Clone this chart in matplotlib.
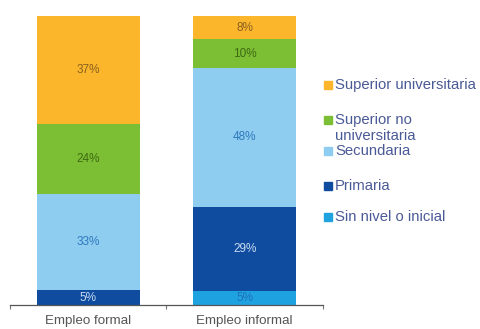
import numpy as np
import matplotlib
matplotlib.use("Agg")
import matplotlib.pyplot as plt
from matplotlib.patches import Rectangle
from matplotlib.ticker import FixedLocator

plt.rcParams["font.family"] = ["Liberation Sans", "DejaVu Sans"]

categories = ["Empleo formal", "Empleo informal"]
levels = ["Sin nivel o inicial", "Primaria", "Secundaria",
          "Superior no\nuniversitaria", "Superior universitaria"]
formal = [0, 5, 33, 24, 37]
informal = [5, 29, 48, 10, 8]

bar_colors = ["#1fa3e0", "#0f4c9f", "#8ecdf0", "#7cbf34", "#fbb62c"]
label_colors = ["#1f6fb8", "#c9dcf2", "#2f79bd", "#3f6a12", "#8a6020"]

fig = plt.figure(figsize=(4.81, 3.29), dpi=100)
W, H = 481, 329
ax = fig.add_axes([10 / W, 1 - 305 / H, 313 / W, 289 / H])

# 100% stacked columns
series = np.array([formal, informal], dtype=float)
shares = series / series.sum(axis=1, keepdims=True) * 100
x = np.arange(len(categories))
bottom = np.zeros(len(categories))
for i, lvl in enumerate(levels):
    ax.bar(x, shares[:, i], bottom=bottom, width=0.66, color=bar_colors[i],
           edgecolor="none", linewidth=0)
    for j in range(len(categories)):
        v = series[j, i]
        if v > 0:
            ax.text(x[j], bottom[j] + shares[j, i] / 2, f"{int(v)}%",
                    ha="center", va="center", fontsize=8.5,
                    color=label_colors[i])
    bottom += shares[:, i]

ax.set_xlim(-0.5, 1.5)
ax.set_ylim(0, 100)
for s in ["top", "right", "left"]:
    ax.spines[s].set_visible(False)
ax.spines["bottom"].set_color("#555555")
ax.spines["bottom"].set_linewidth(0.9)
ax.set_yticks([])
ax.set_xticks([])
ax.xaxis.set_minor_locator(FixedLocator([-0.5, 0.5, 1.5]))
ax.tick_params(axis="x", which="minor", length=3, color="#777777", width=0.8)
for j, c in enumerate(categories):
    ax.text(x[j], -5.4, c, ha="center", va="center", fontsize=9.6,
            color="#555555", clip_on=False)

# legend entries, top to bottom (level index, vertical pixel of first line)
legend_rows = [(4, 85), (3, 120), (2, 151), (1, 186), (0, 217)]
for idx, ypix in legend_rows:
    fig.patches.append(Rectangle((324 / W, 1 - (ypix + 4) / H), 8 / W, 8 / H,
                                 transform=fig.transFigure,
                                 color=bar_colors[idx], zorder=3))
    lines = levels[idx].split("\n")
    for k, line in enumerate(lines):
        fig.text(335 / W, 1 - (ypix + 16 * k) / H, line, ha="left",
                 va="center", fontsize=10.7, color="#4a5a96")

fig.savefig("out.png", dpi=100)
